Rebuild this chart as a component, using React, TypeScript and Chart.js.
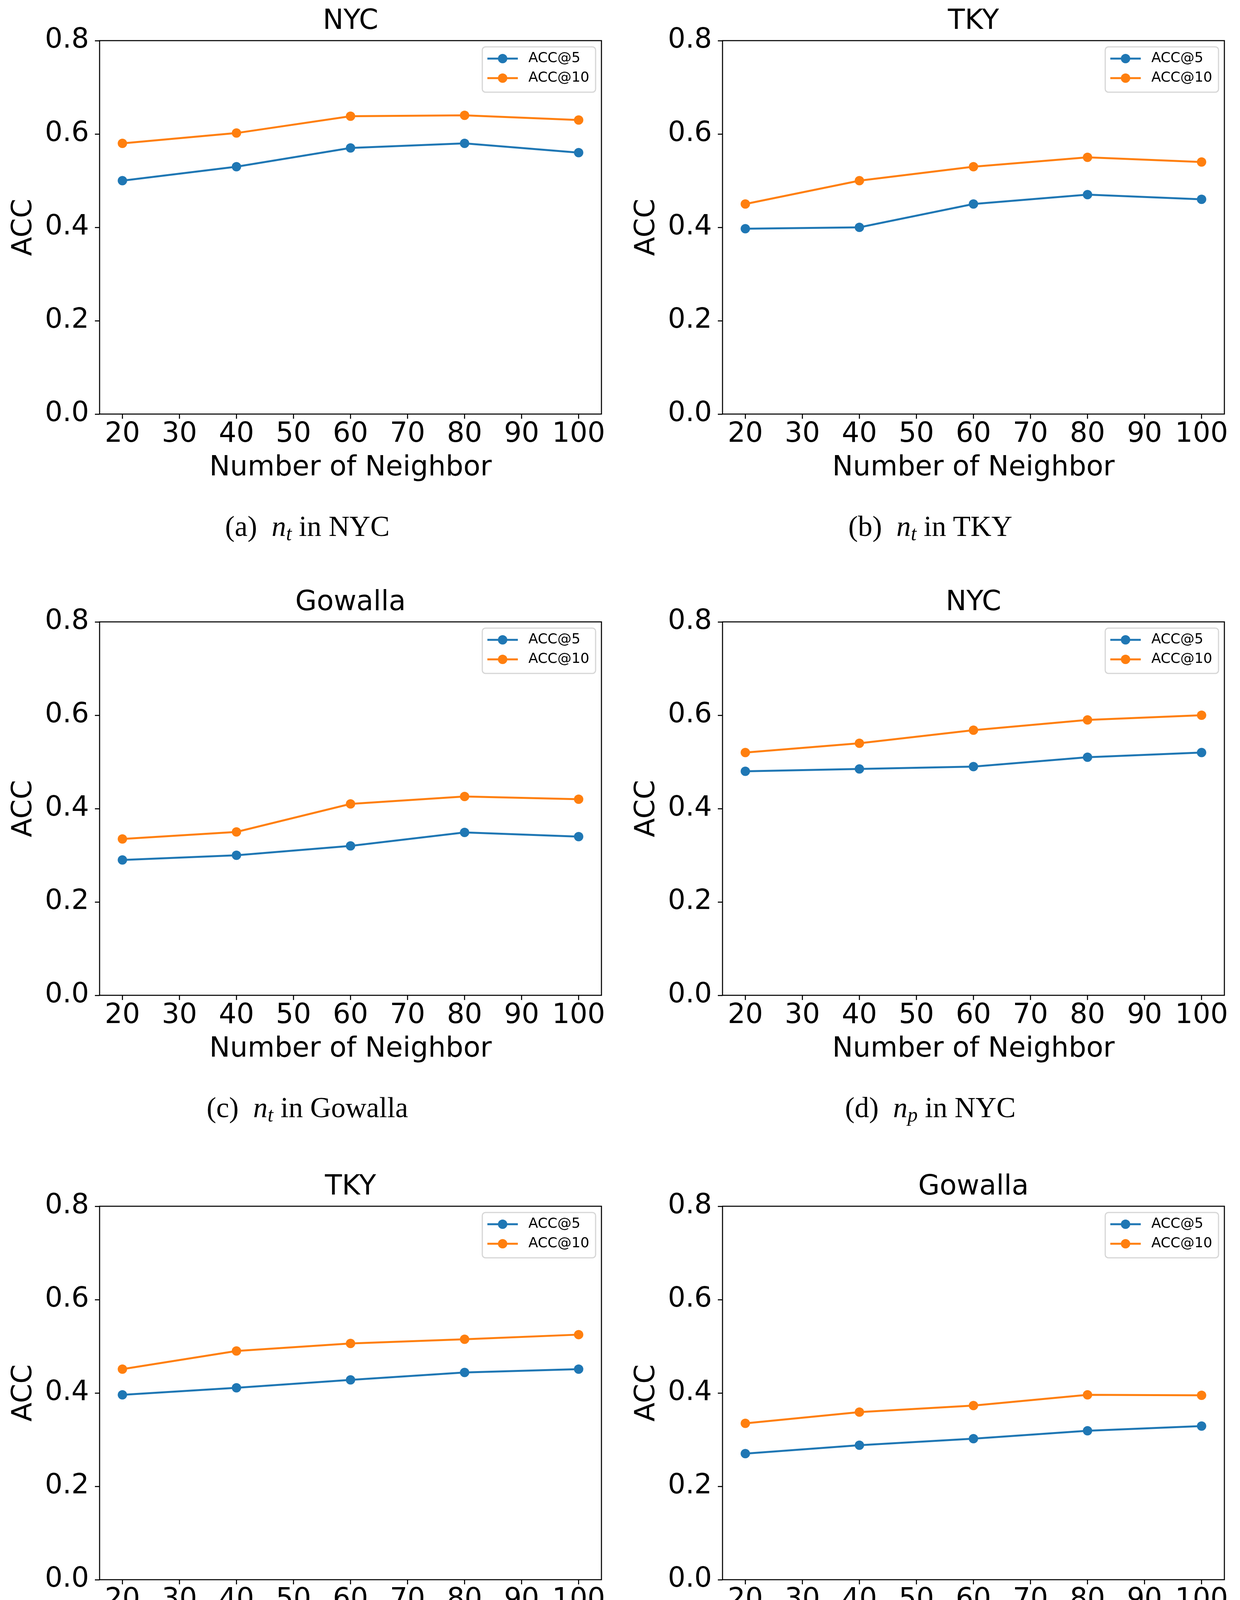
import React, { useEffect, useRef } from 'react';
import { Chart, registerables } from 'chart.js';

Chart.register(...registerables);

// ---------------- data ----------------
const NEIGHBORS = [20, 40, 60, 80, 100];
const X_TICKS = [20, 30, 40, 50, 60, 70, 80, 90, 100];
const Y_TICKS = [0, 0.2, 0.4, 0.6, 0.8];
const SERIES_LABELS = ['ACC@5', 'ACC@10'];

const NT_NYC_ACC5 = [0.5, 0.53, 0.57, 0.58, 0.56];
const NT_NYC_ACC10 = [0.58, 0.602, 0.638, 0.64, 0.63];
const NT_TKY_ACC5 = [0.397, 0.4, 0.45, 0.47, 0.46];
const NT_TKY_ACC10 = [0.45, 0.5, 0.53, 0.55, 0.54];
const NT_GOW_ACC5 = [0.29, 0.3, 0.32, 0.349, 0.34];
const NT_GOW_ACC10 = [0.335, 0.35, 0.41, 0.426, 0.42];
const NP_NYC_ACC5 = [0.48, 0.485, 0.49, 0.51, 0.52];
const NP_NYC_ACC10 = [0.52, 0.54, 0.568, 0.59, 0.6];
const NP_TKY_ACC5 = [0.396, 0.411, 0.428, 0.444, 0.451];
const NP_TKY_ACC10 = [0.451, 0.49, 0.506, 0.515, 0.525];
const NP_GOW_ACC5 = [0.27, 0.288, 0.302, 0.319, 0.329];
const NP_GOW_ACC10 = [0.335, 0.359, 0.373, 0.396, 0.395];

const PANEL_TITLES = ['NYC', 'TKY', 'Gowalla', 'NYC', 'TKY', 'Gowalla'];
const CAPTION_LETTERS = ['(a)', '(b)', '(c)', '(d)', '(e)', '(f)'];
const CAPTION_PARAMS = ['t', 't', 't', 'p', 'p', 'p'];
const ACC5_SERIES = [NT_NYC_ACC5, NT_TKY_ACC5, NT_GOW_ACC5, NP_NYC_ACC5, NP_TKY_ACC5, NP_GOW_ACC5];
const ACC10_SERIES = [NT_NYC_ACC10, NT_TKY_ACC10, NT_GOW_ACC10, NP_NYC_ACC10, NP_TKY_ACC10, NP_GOW_ACC10];

// ---------------- style / layout ----------------
const BLUE = '#1f77b4';
const ORANGE = '#ff7f0e';
const FONT = '"DejaVu Sans", sans-serif';
const FS = 71;
const CW = 1580;
const TITLE_H = 104;
const PLOT_H = 956;
const XAXIS_H = 200;
const CH = TITLE_H + PLOT_H + XAXIS_H;
const COL_X = [0, 1595];
const ROW_PLOT_TOP = [104, 1592, 3088];

const framePlugin = {
  id: 'mplFrame',
  afterDatasetsDraw(chart: any) {
    const { ctx, chartArea } = chart;
    ctx.save();
    ctx.strokeStyle = '#000';
    ctx.lineWidth = 2.7;
    ctx.strokeRect(chartArea.left, chartArea.top, chartArea.right - chartArea.left, chartArea.bottom - chartArea.top);
    ctx.restore();
  },
};

const legendPlugin = {
  id: 'mplLegend',
  afterDraw(chart: any) {
    const { ctx, chartArea } = chart;
    const fs = 36;
    ctx.save();
    ctx.font = `${fs}px ${FONT}`;
    const ds = chart.data.datasets;
    const tw = Math.max(...ds.map((d: any) => ctx.measureText(d.label).width));
    const padL = 13, handle = 78, gap = 27, padR = 16;
    const w = padL + handle + gap + tw + padR;
    const h = 116;
    const right = chartArea.right - 15;
    const top = chartArea.top + 16;
    const left = right - w;
    const r = 8;
    ctx.beginPath();
    ctx.moveTo(left + r, top);
    ctx.lineTo(right - r, top);
    ctx.arcTo(right, top, right, top + r, r);
    ctx.lineTo(right, top + h - r);
    ctx.arcTo(right, top + h, right - r, top + h, r);
    ctx.lineTo(left + r, top + h);
    ctx.arcTo(left, top + h, left, top + h - r, r);
    ctx.lineTo(left, top + r);
    ctx.arcTo(left, top, left + r, top, r);
    ctx.closePath();
    ctx.fillStyle = 'rgba(255,255,255,0.8)';
    ctx.fill();
    ctx.strokeStyle = '#d6d6d6';
    ctx.lineWidth = 3;
    ctx.stroke();
    ds.forEach((d: any, i: number) => {
      const y = top + 30 + i * 50;
      const x0 = left + padL;
      ctx.strokeStyle = d.borderColor;
      ctx.lineWidth = 5;
      ctx.beginPath();
      ctx.moveTo(x0, y);
      ctx.lineTo(x0 + handle, y);
      ctx.stroke();
      ctx.fillStyle = d.borderColor;
      ctx.beginPath();
      ctx.arc(x0 + handle / 2, y, 12, 0, Math.PI * 2);
      ctx.fill();
      ctx.fillStyle = '#000';
      ctx.textBaseline = 'middle';
      ctx.textAlign = 'left';
      ctx.fillText(d.label, x0 + handle + gap, y);
    });
    ctx.restore();
  },
};

const gridOpts = {
  drawOnChartArea: false,
  drawTicks: true,
  tickLength: 12,
  tickWidth: 2.7,
  tickColor: '#000',
};

function Panel({ idx }: { idx: number }) {
  const ref = useRef<HTMLCanvasElement>(null);
  const col = idx % 2;
  const row = Math.floor(idx / 2);
  useEffect(() => {
    const mk = (label: string, vals: number[], color: string) => ({
      label,
      data: NEIGHBORS.map((x, i) => ({ x, y: vals[i] })),
      borderColor: color,
      backgroundColor: color,
      pointBackgroundColor: color,
      pointBorderWidth: 0,
      pointRadius: 12,
      borderWidth: 5,
      tension: 0,
      fill: false,
    });
    const chart = new Chart(ref.current!, {
      type: 'line',
      data: {
        datasets: [
          mk(SERIES_LABELS[0], ACC5_SERIES[idx], BLUE),
          mk(SERIES_LABELS[1], ACC10_SERIES[idx], ORANGE),
        ],
      },
      options: {
        responsive: false,
        animation: false,
        devicePixelRatio: 1,
        layout: { padding: { left: 0, right: 40, top: 0, bottom: 0 } },
        plugins: {
          legend: { display: false },
          tooltip: { enabled: false },
          title: {
            display: true,
            text: PANEL_TITLES[idx],
            fullSize: false,
            color: '#000',
            font: { family: FONT, size: FS, weight: 'normal', lineHeight: 1.2 },
            padding: { top: 12.8, bottom: 6 },
          },
        },
        scales: {
          x: {
            type: 'linear',
            min: 16,
            max: 104,
            afterBuildTicks: (s: any) => {
              s.ticks = X_TICKS.map((v) => ({ value: v }));
            },
            afterFit: (s: any) => {
              s.height = XAXIS_H;
            },
            ticks: {
              color: '#000',
              font: { family: FONT, size: FS, lineHeight: 1 },
              padding: 5.5,
              maxRotation: 0,
              autoSkip: false,
              callback: (v: any) => String(v),
            },
            grid: gridOpts,
            border: { display: false },
            title: {
              display: true,
              text: 'Number of Neighbor',
              color: '#000',
              font: { family: FONT, size: FS, lineHeight: 1.2 },
              padding: { top: 0, bottom: 18.8 },
            },
          },
          y: {
            type: 'linear',
            min: 0,
            max: 0.8,
            afterBuildTicks: (s: any) => {
              s.ticks = Y_TICKS.map((v) => ({ value: v }));
            },
            afterFit: (s: any) => {
              s.width = 255;
            },
            ticks: {
              color: '#000',
              font: { family: FONT, size: FS, lineHeight: 1 },
              padding: 15,
              callback: (v: any) => Number(v).toFixed(1),
            },
            grid: gridOpts,
            border: { display: false },
            title: {
              display: true,
              text: 'ACC',
              color: '#000',
              font: { family: FONT, size: FS, lineHeight: 1.2 },
              padding: { top: 19.4, bottom: 0 },
            },
          },
        },
      } as any,
      plugins: [framePlugin, legendPlugin],
    });
    return () => chart.destroy();
  }, [idx]);

  const plotTop = ROW_PLOT_TOP[row];
  const capFs = 74;
  const baseline = plotTop + 1268;
  const capCx = COL_X[col] + 787;
  return (
    <>
      <canvas
        ref={ref}
        width={CW}
        height={CH}
        style={{ position: 'absolute', left: COL_X[col], top: plotTop - TITLE_H, width: CW, height: CH }}
      />
      <div
        style={{
          position: 'absolute',
          left: capCx,
          top: baseline - 0.8375 * capFs,
          transform: 'translateX(-50%)',
          whiteSpace: 'nowrap',
          fontFamily: '"Liberation Serif", serif',
          fontSize: capFs,
          lineHeight: 1,
          color: '#000',
        }}
      >
        <span style={{ marginRight: '0.5em' }}>{CAPTION_LETTERS[idx]}</span>
        <i>n</i>
        <sub style={{ fontSize: '0.7em', verticalAlign: '-0.22em', lineHeight: 0, fontStyle: 'italic' }}>
          {CAPTION_PARAMS[idx]}
        </sub>
        <span> in {PANEL_TITLES[idx]}</span>
      </div>
    </>
  );
}

export default function App() {
  return (
    <div
      style={{
        position: 'absolute',
        left: 0,
        top: 0,
        width: 3175,
        height: 4397,
        background: '#fff',
        overflow: 'hidden',
      }}
    >
      {PANEL_TITLES.map((_, i) => (
        <Panel key={i} idx={i} />
      ))}
    </div>
  );
}
